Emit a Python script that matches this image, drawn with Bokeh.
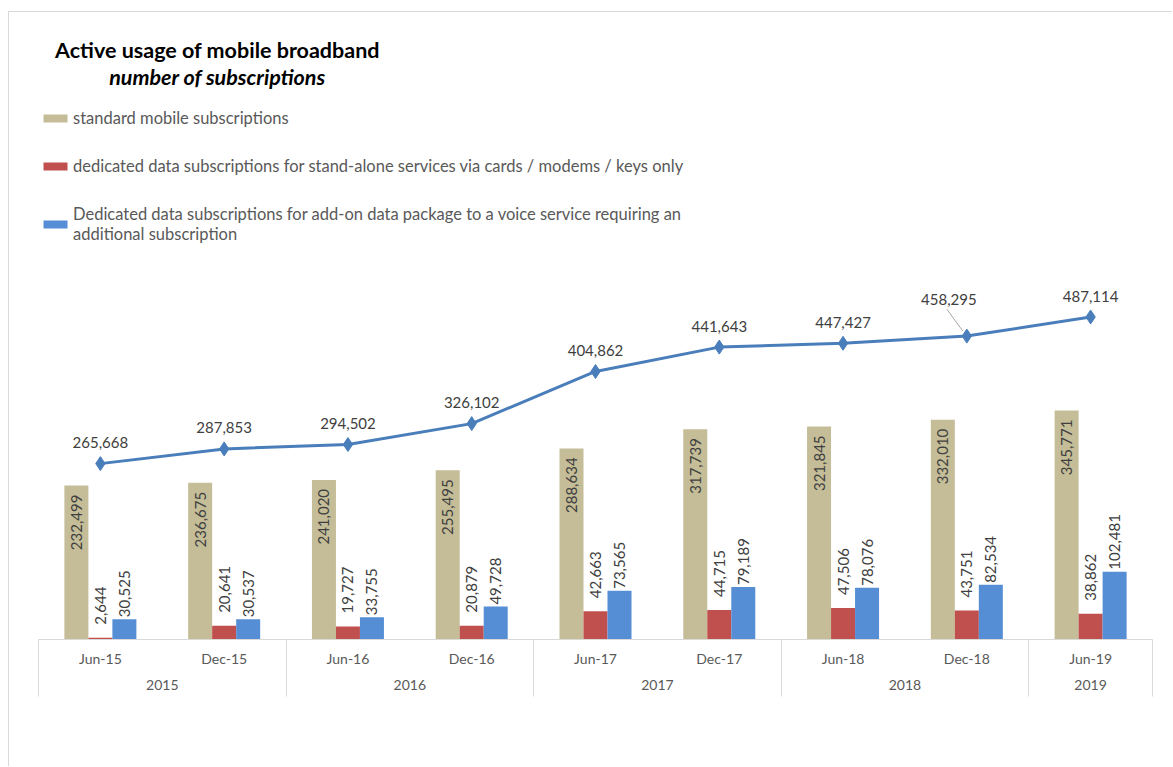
import numpy as np
from bokeh.plotting import figure
from bokeh.models import (FactorRange, Range1d, ColumnDataSource, Legend, LegendItem,
                          Label, CategoricalAxis)
from bokeh.transform import dodge
from bokeh.core.properties import value
from bokeh.embed import file_html
from bokeh.resources import INLINE

# ---------------- data ----------------
years = ["2015", "2015", "2016", "2016", "2017", "2017", "2018", "2018", "2019"]
periods = ["Jun-15", "Dec-15", "Jun-16", "Dec-16", "Jun-17", "Dec-17", "Jun-18", "Dec-18", "Jun-19"]
standard = [232499, 236675, 241020, 255495, 288634, 317739, 321845, 332010, 345771]
standalone = [2644, 20641, 19727, 20879, 42663, 44715, 47506, 43751, 38862]
addon = [30525, 30537, 33755, 49728, 73565, 79189, 78076, 82534, 102481]
totals = [265668, 287853, 294502, 326102, 404862, 441643, 447427, 458295, 487114]

series_names = [
    "standard mobile subscriptions",
    "dedicated data subscriptions for stand-alone services via cards / modems / keys only",
    "Dedicated data subscriptions for add-on data package to a voice service requiring an\nadditional subscription",
]

# ---------------- styling ----------------
FONT = "Lato"
GOLD = "#C4BD97"
RED = "#C0504D"
BLUE = "#558ED5"
LINE = "#4A7EBB"
TXT = "#404040"
GREY = "#595959"
EDGE = "#D9D9D9"

OX, OY = 9, 12            # canvas origin inside the bordered chart box
W = 1173 - OX
H = 767 - OY
FRAME_L, FRAME_R, FRAME_T, FRAME_B = 38 - OX, 1152 - OX, 20 - OY, 639 - OY
PX_X = (FRAME_R - FRAME_L) / len(periods)
Y_MAX = 935000
PX_Y = Y_MAX / (FRAME_B - FRAME_T)

factors = list(zip(years, periods))
bw = 24 / PX_X

# label offsets for the total line (one label is pulled aside with a leader line)
lbl_dx = [0] * len(periods)
lbl_dy = [-21] * len(periods)
special = periods.index("Dec-18")
lbl_dx[special] = -18
lbl_dy[special] = -37

src = ColumnDataSource(dict(
    x=factors,
    standard=standard, standalone=standalone, addon=addon, total=totals,
    standard_lbl=[f"{v:,}" for v in standard],
    standalone_lbl=[f"{v:,}" for v in standalone],
    addon_lbl=[f"{v:,}" for v in addon],
    total_lbl=[f"{v:,}" for v in totals],
    dx=lbl_dx, dy=lbl_dy,
))

p = figure(width=W, height=H,
           x_range=FactorRange(*factors, factor_padding=0, group_padding=0, range_padding=0),
           y_range=Range1d(0, Y_MAX),
           output_backend="svg", toolbar_location=None, y_axis_location=None,
           min_border_left=FRAME_L, min_border_right=W - FRAME_R,
           min_border_top=FRAME_T, min_border_bottom=H - FRAME_B)
p.styles = {"margin-left": "8px", "margin-top": "11px",
            "border-left": f"1px solid {EDGE}", "border-top": f"1px solid {EDGE}"}
p.outline_line_color = None
p.xgrid.visible = False
p.ygrid.visible = False
p.background_fill_color = "white"
p.border_fill_color = "white"

ax = p.xaxis[0]
ax.axis_line_color = EDGE
ax.axis_line_width = 1
ax.major_tick_line_color = None
ax.major_tick_in = 0
ax.major_tick_out = 0
ax.major_label_standoff = 10
ax.major_label_text_font = FONT
ax.major_label_text_font_size = "14px"
ax.major_label_text_color = GREY
ax.group_text_font = FONT
ax.group_text_font_size = "14px"
ax.group_text_color = GREY
ax.group_text_font_style = "normal"
ax.separator_line_color = None

# Year separators and the two outer edges of the category axis, drawn as ticks of a helper
# categorical axis whose factor centres fall on the year boundaries (0, 2, 4, 6, 8, 9).
edge_factors = [("a", "e0"), ("a", "e1"), ("a", "e2"), ("a", "e3"), ("a", "e4"), ("b", "e5")]
p.extra_x_ranges = {"edges": FactorRange(*edge_factors, factor_padding=1, group_padding=0,
                                         range_padding=-0.499, range_padding_units="absolute")}
edge_ax = CategoricalAxis(x_range_name="edges",
                          axis_line_color=None, major_tick_line_color=EDGE, major_tick_line_width=1,
                          major_tick_in=-57, major_tick_out=0, minor_tick_line_color=None,
                          major_label_text_font_size="0px", major_label_text_color=None,
                          major_label_standoff=0,
                          group_text_font_size="0px", group_text_color=None,
                          separator_line_color=None)
p.add_layout(edge_ax, "below")
p.below = [edge_ax, ax]

# bars
r_std = p.vbar(x=dodge("x", -bw, range=p.x_range), top="standard", width=bw, source=src,
               fill_color=GOLD, line_color=None)
r_sa = p.vbar(x=dodge("x", 0, range=p.x_range), top="standalone", width=bw, source=src,
              fill_color=RED, line_color=None)
r_ad = p.vbar(x=dodge("x", bw, range=p.x_range), top="addon", width=bw, source=src,
              fill_color=BLUE, line_color=None)

lbl_kw = dict(source=src, angle=np.pi / 2, text_baseline="middle", text_color=TXT,
              text_font=value(FONT), text_font_size="15px")
p.text(x=dodge("x", -bw, range=p.x_range), y="standard", text="standard_lbl",
       text_align="right", y_offset=9, **lbl_kw)
p.text(x=dodge("x", 0, range=p.x_range), y="standalone", text="standalone_lbl",
       text_align="left", y_offset=-13, **lbl_kw)
p.text(x=dodge("x", bw, range=p.x_range), y="addon", text="addon_lbl",
       text_align="left", y_offset=-2, **lbl_kw)

# total line
p.line(x="x", y="total", source=src, line_color=LINE, line_width=3)
p.scatter(x="x", y="total", source=src, marker="diamond", size=14,
          fill_color=LINE, line_color=LINE)
p.text(x="x", y="total", text="total_lbl", source=src, x_offset="dx", y_offset="dy",
       text_align="center", text_baseline="middle", text_color=TXT,
       text_font=value(FONT), text_font_size="15px")

# leader line for the moved label
cx = special + 0.5
p.segment(x0=[cx - 20 / PX_X], y0=[totals[special] + 27 * PX_Y],
          x1=[cx - 4 / PX_X], y1=[totals[special] + 5 * PX_Y],
          line_color="#A6A6A6", line_width=1)

# legend
legend = Legend(items=[
    LegendItem(label=series_names[0], renderers=[r_std]),
    LegendItem(label=series_names[1], renderers=[r_sa]),
    LegendItem(label=series_names[2], renderers=[r_ad]),
], location=(40 - 38, 639 - 247 + 3), padding=0, margin=0, spacing=28,
    glyph_width=30, glyph_height=10, label_standoff=3, label_height=20,
    border_line_color=None, background_fill_alpha=0,
    label_text_font=FONT, label_text_font_size="16.5px", label_text_color=GREY)
p.add_layout(legend, "center")

# title
TX = 217 - 38
p.add_layout(Label(x=TX, y=639 - 49, x_units="screen", y_units="screen",
                   text="Active usage of mobile broadband", text_align="center",
                   text_baseline="middle", text_font=FONT, text_font_style="bold",
                   text_font_size="21.5px", text_color="#000000"))
p.add_layout(Label(x=TX, y=639 - 76, x_units="screen", y_units="screen",
                   text="number of subscriptions", text_align="center",
                   text_baseline="middle", text_font=FONT, text_font_style="bold italic",
                   text_font_size="21.5px", text_color="#000000"))

open("out.html", "w").write(file_html(p, INLINE))
